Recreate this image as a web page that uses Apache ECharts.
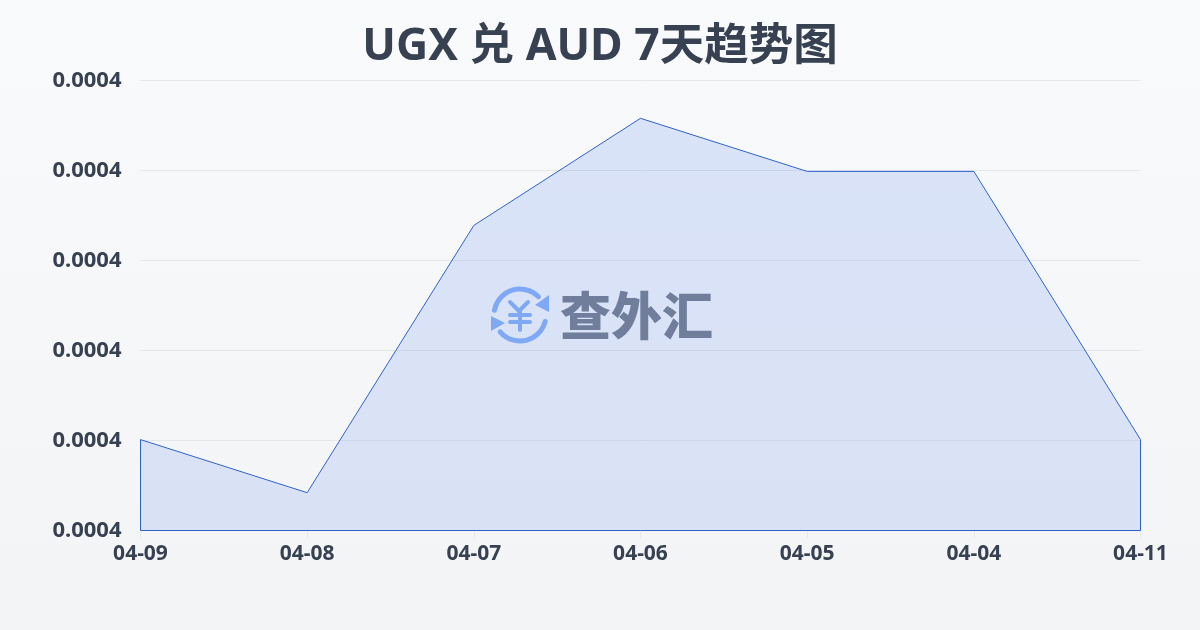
<!DOCTYPE html>
<html>
<head>
<meta charset="utf-8">
<title>UGX 兑 AUD 7天趋势图</title>
<style>
  html, body { margin: 0; padding: 0; }
  #chart { width: 1200px; height: 630px; }
</style>
</head>
<body>
<div id="chart"></div>
<script src="https://cdn.jsdelivr.net/npm/echarts@6/dist/echarts.min.js"></script>
<script>
const titleText = 'UGX 兑 AUD 7天趋势图'
const categories = ['04-09', '04-08', '04-07', '04-06', '04-05', '04-04', '04-11']
const rates = [0.0004001, 0.0003942, 0.0004239, 0.0004358, 0.0004299, 0.0004299, 0.0004001]
const axisMin = 0.00039
const axisMax = 0.00044
const axisStep = 0.00001

const fontFamily = '"Noto Sans", "Noto Sans CJK SC", sans-serif'
const textColor = '#374151'
const lineColor = '#2f62c9'
const iconColor = '#8db4f5'

// 底边和两侧的闭合线，按同样的坐标轴来画
const outline = [
    [categories[0], rates[0]],
    [categories[0], axisMin],
    [categories[categories.length - 1], axisMin],
    [categories[categories.length - 1], rates[rates.length - 1]]
]

// 水印图标里的 ¥，用线段画
const yenStrokes = [
    [510, 302, 519, 311],
    [528, 302, 519, 311],
    [510, 315, 530, 315],
    [510, 322, 530, 322],
    [520, 311, 520, 330]
]

const chart = echarts.init(document.getElementById('chart'))

chart.setOption({
    animation: false,
    backgroundColor: new echarts.graphic.LinearGradient(0, 0, 0, 1, [
        { offset: 0, color: '#f9fafb' },
        { offset: 1, color: '#f3f4f6' }
    ]),
    title: {
        text: titleText,
        left: 'center',
        top: 20,
        textStyle: { color: textColor, fontSize: 44.5, fontWeight: 'bold', fontFamily: fontFamily }
    },
    grid: { left: 140.5, right: 59.5, top: 80.5, bottom: 99.5 },
    xAxis: {
        type: 'category',
        boundaryGap: false,
        data: categories,
        axisLine: { show: false },
        axisTick: { show: true, length: 8, lineStyle: { color: '#e5e7eb' } },
        axisLabel: {
            color: textColor, fontSize: 21, fontWeight: 'bold', fontFamily: fontFamily,
            margin: 13, interval: 0, showMinLabel: true, showMaxLabel: true
        }
    },
    yAxis: {
        type: 'value',
        min: axisMin,
        max: axisMax,
        interval: axisStep,
        axisLine: { show: false },
        axisTick: { show: false },
        splitLine: { lineStyle: { color: '#e5e7eb', width: 1 } },
        axisLabel: {
            color: textColor, fontSize: 22, fontWeight: 'bold', fontFamily: fontFamily,
            margin: 19, padding: [0, 0, 2, 0],
            formatter: function (v) { return v.toFixed(4) }
        }
    },
    series: [
        {
            type: 'line',
            data: rates,
            symbol: 'none',
            clip: false,
            lineStyle: { color: lineColor, width: 1 },
            areaStyle: {
                opacity: 1,
                color: new echarts.graphic.LinearGradient(0, 0, 0, 1, [
                    { offset: 0, color: 'rgba(37,99,235,0.145)' },
                    { offset: 1, color: 'rgba(37,99,235,0.13)' }
                ])
            }
        },
        {
            type: 'line',
            data: outline,
            symbol: 'none',
            clip: false,
            lineStyle: { color: lineColor, width: 1 }
        }
    ],
    graphic: [
        {
            type: 'group',
            z: 100,
            children: [
                { type: 'arc', shape: { cx: 520, cy: 315, r: 26, startAngle: -2.96, endAngle: -0.78 }, style: { fill: null, stroke: iconColor, lineWidth: 5, lineCap: 'round' } },
                { type: 'arc', shape: { cx: 520, cy: 315, r: 26, startAngle: 0.25, endAngle: 2.44 }, style: { fill: null, stroke: iconColor, lineWidth: 5, lineCap: 'round' } },
                { type: 'polygon', shape: { points: [[549, 295], [549, 312], [535, 305]] }, style: { fill: iconColor } },
                { type: 'polygon', shape: { points: [[491, 316], [491, 331], [505, 323]] }, style: { fill: iconColor } }
            ].concat(yenStrokes.map(function (s) {
                return {
                    type: 'line',
                    shape: { x1: s[0], y1: s[1], x2: s[2], y2: s[3] },
                    style: { stroke: iconColor, lineWidth: 4, lineCap: 'round' }
                }
            })).concat([
                { type: 'text', style: { x: 560, y: 316, text: '查外汇', fill: '#7c828f', font: '900 51px "Noto Sans CJK SC", sans-serif', align: 'left', verticalAlign: 'middle' } }
            ])
        }
    ]
})
</script>
</body>
</html>
